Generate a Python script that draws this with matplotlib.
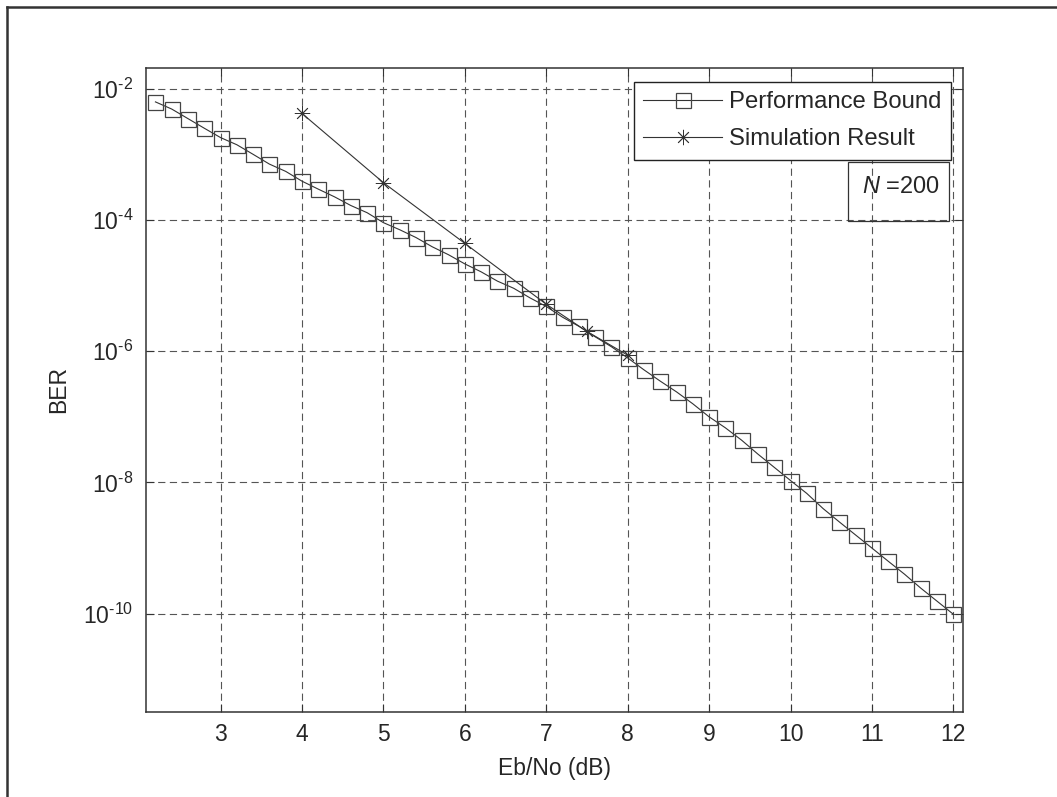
import matplotlib
matplotlib.use('Agg')
import matplotlib.pyplot as plt
from matplotlib.lines import Line2D
from matplotlib.patches import Rectangle

plt.rcParams['font.family'] = ['Liberation Sans', 'DejaVu Sans']
plt.rcParams['mathtext.fontset'] = 'custom'
plt.rcParams['mathtext.rm'] = 'Liberation Sans'
plt.rcParams['mathtext.it'] = 'Liberation Sans:italic'

# Performance bound (Eb/No in dB, BER)
ebno_bound = [2.2, 2.4, 2.6, 2.8, 3.0, 3.2, 3.4, 3.6, 3.8, 4.0,
              4.2, 4.4, 4.6, 4.8, 5.0, 5.2, 5.4, 5.6, 5.8, 6.0,
              6.2, 6.4, 6.6, 6.8, 7.0, 7.2, 7.4, 7.6, 7.8, 8.0,
              8.2, 8.4, 8.6, 8.8, 9.0, 9.2, 9.4, 9.6, 9.8, 10.0,
              10.2, 10.4, 10.6, 10.8, 11.0, 11.2, 11.4, 11.6, 11.8, 12.0]
ber_bound = [6.3e-3, 4.9e-3, 3.5e-3, 2.5e-3, 1.8e-3, 1.4e-3, 1.0e-3, 7.1e-4, 5.5e-4, 3.9e-4,
             2.95e-4, 2.25e-4, 1.66e-4, 1.29e-4, 9.1e-5, 7.1e-5, 5.4e-5, 3.9e-5, 2.95e-5, 2.14e-5,
             1.62e-5, 1.17e-5, 9.1e-6, 6.5e-6, 4.8e-6, 3.3e-6, 2.4e-6, 1.66e-6, 1.17e-6, 7.9e-7,
             5.2e-7, 3.5e-7, 2.4e-7, 1.58e-7, 1.0e-7, 6.8e-8, 4.4e-8, 2.7e-8, 1.7e-8, 1.07e-8,
             6.8e-9, 4.0e-9, 2.5e-9, 1.58e-9, 1.0e-9, 6.3e-10, 4.0e-10, 2.45e-10, 1.55e-10, 9.8e-11]

# Simulation result
ebno_sim = [4, 5, 6, 7, 7.5, 8]
ber_sim = [4.2e-3, 3.7e-4, 4.4e-5, 5.2e-6, 2.0e-6, 8.7e-7]

xticks = [3, 4, 5, 6, 7, 8, 9, 10, 11, 12]
yticks = [1e-2, 1e-4, 1e-6, 1e-8, 1e-10]
ytick_labels = [r'$\mathregular{10^{\text{-}2}}$', r'$\mathregular{10^{\text{-}4}}$',
                r'$\mathregular{10^{\text{-}6}}$', r'$\mathregular{10^{\text{-}8}}$',
                r'$\mathregular{10^{\text{-}10}}$']

fs = 16.5
dark = '#333333'

fig = plt.figure(figsize=(10.57, 7.97), dpi=100)
ax = fig.add_axes([0.1378, 0.1070, 0.7730, 0.8077])

ax.semilogy(ebno_bound, ber_bound, '-', color=dark, lw=0.8, marker='s', markersize=10.8,
            markerfacecolor='none', markeredgecolor='#444444', markeredgewidth=0.9,
            label='Performance Bound')
ax.semilogy(ebno_sim, ber_sim, '-', color=dark, lw=0.8, marker=(8, 2, 0), markersize=11,
            markeredgecolor='#333333', markeredgewidth=0.6, label='Simulation Result')

ax.set_xlim(2.08, 12.115)
ax.set_ylim(10 ** -11.494, 10 ** -1.684)
ax.set_xticks(xticks)
ax.set_xticklabels([str(t) for t in xticks], fontsize=fs, color='#262626')
ax.set_yticks(yticks)
ax.set_yticklabels(ytick_labels, fontsize=fs, color='#262626')
ax.yaxis.set_minor_locator(matplotlib.ticker.NullLocator())
ax.tick_params(direction='in', length=6, width=0.8, top=True, right=True, color=dark)
ax.tick_params(axis='x', pad=8)
ax.tick_params(axis='y', pad=9)

ax.grid(True, which='major', linestyle=(0, (6.5, 4)), color='#555555', linewidth=0.8)
ax.set_axisbelow(True)
for sp in ax.spines.values():
    sp.set_color(dark)
    sp.set_linewidth(1.1)

ax.set_xlabel('Eb/No (dB)', fontsize=fs, color='#262626', labelpad=8)
ax.set_ylabel('BER', fontsize=fs, color='#262626', labelpad=9)

leg = ax.legend(loc='upper right', bbox_to_anchor=(0.9857, 0.9787), fontsize=17.2,
                fancybox=False, framealpha=1, edgecolor='#222222', borderaxespad=0,
                handlelength=3.3, handletextpad=0.3, borderpad=0.4, labelspacing=0.62)
leg.get_frame().set_linewidth(1.0)
for t in leg.get_texts():
    t.set_color('#262626')

# N = 200 annotation box
fig.add_artist(Rectangle((0.802, 0.7231), 0.0961, 0.0733, transform=fig.transFigure,
                         fill=False, edgecolor='#333333', linewidth=0.9))
fig.text(0.889, 0.7657, r'$N$ =200', ha='right', va='center', fontsize=17, color='#262626')

# outer frame (left and top edges visible)
fx = 6.7 / 1057
fy = 1 - 6.7 / 797
fig.add_artist(Line2D([fx, fx], [0, fy], transform=fig.transFigure, color='#333333', lw=1.8))
fig.add_artist(Line2D([fx, 1], [fy, fy], transform=fig.transFigure, color='#333333', lw=1.8))

fig.savefig('out.png', dpi=100)
